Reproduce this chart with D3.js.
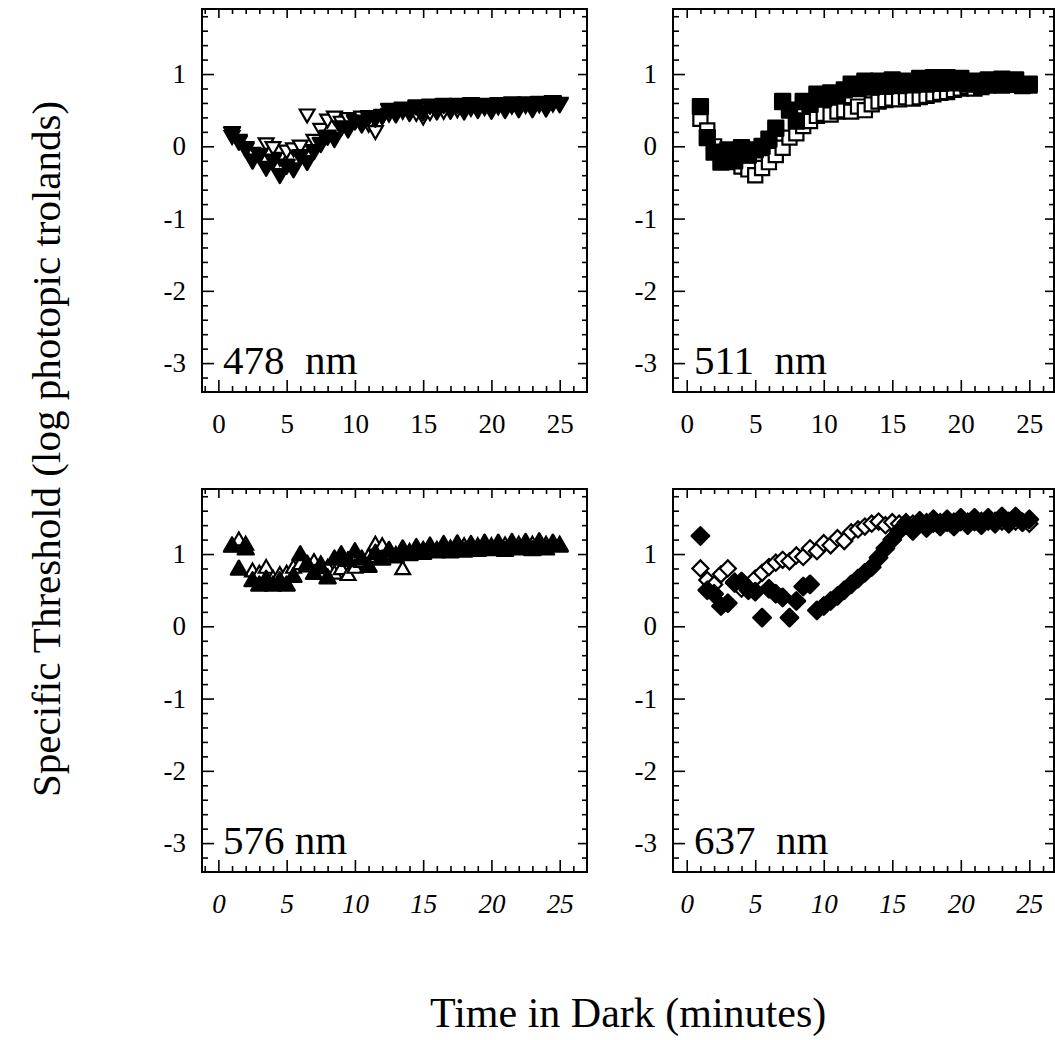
<!DOCTYPE html>
<html>
<head>
<meta charset="utf-8">
<script src="https://cdn.jsdelivr.net/npm/d3@7/dist/d3.min.js"></script>
<style>
  body { margin: 0; background: #fff; }
  svg { display: block; }
  text { font-family: "Liberation Serif", "Times New Roman", serif; fill: #000; }
</style>
</head>
<body>
<svg id="chart"></svg>
<script>
// minutes in the dark at which each threshold was read (same for every series)
const minutes = [1, 1.5, 2, 2.5, 3, 3.5, 4, 4.5, 5, 5.5, 6, 6.5, 7, 7.5, 8, 8.5, 9, 9.5, 10,
  10.5, 11, 11.5, 12, 12.5, 13, 13.5, 14, 14.5, 15, 15.5, 16, 16.5, 17, 17.5, 18, 18.5, 19,
  19.5, 20, 20.5, 21, 21.5, 22, 22.5, 23, 23.5, 24, 24.5, 25];

// log photopic trolands
const filled478 = [0.2, 0.08, -0.02, -0.18, -0.1, -0.28, -0.18, -0.38, -0.25, -0.3, -0.12, -0.2,
  -0.05, 0.05, 0.15, 0.12, 0.28, 0.25, 0.36, 0.32, 0.42, 0.4, 0.44, 0.52, 0.46, 0.54, 0.48, 0.57,
  0.49, 0.58, 0.5, 0.59, 0.51, 0.59, 0.5, 0.6, 0.52, 0.59, 0.51, 0.6, 0.52, 0.61, 0.53, 0.61,
  0.53, 0.62, 0.54, 0.63, 0.6];
const open478 = [0.15, 0.1, 0.0, -0.08, -0.12, 0.05, 0.0, -0.15, -0.05, -0.02, 0.02, 0.45, 0.1,
  0.25, 0.38, 0.42, 0.35, 0.4, 0.38, 0.42, 0.32, 0.22, 0.42, 0.46, 0.48, 0.5, 0.48, 0.47, 0.42,
  0.48, 0.52, 0.5, 0.55, 0.52, 0.55, 0.54, 0.56, 0.55, 0.57, 0.56, 0.58, 0.57, 0.59, 0.58, 0.6,
  0.59, 0.6, 0.6, 0.61];

const filled511 = [0.55, 0.12, -0.08, -0.22, -0.05, -0.2, -0.02, -0.12, -0.05, 0.0, 0.1, 0.25,
  0.62, 0.5, 0.35, 0.62, 0.58, 0.72, 0.66, 0.74, 0.7, 0.78, 0.86, 0.8, 0.9, 0.82, 0.9, 0.83,
  0.92, 0.84, 0.9, 0.85, 0.94, 0.86, 0.95, 0.87, 0.95, 0.88, 0.94, 0.86, 0.9, 0.84, 0.92, 0.86,
  0.93, 0.86, 0.92, 0.84, 0.86];
const open511 = [0.38, 0.22, 0.0, -0.12, -0.18, -0.22, -0.28, -0.32, -0.4, -0.3, -0.22, -0.12,
  -0.02, 0.12, 0.18, 0.28, 0.35, 0.42, 0.45, 0.44, 0.48, 0.5, 0.48, 0.55, 0.5, 0.58, 0.62, 0.64,
  0.66, 0.65, 0.68, 0.66, 0.68, 0.7, 0.72, 0.74, 0.75, 0.78, 0.8, 0.82, 0.8, 0.82, 0.84, 0.85,
  0.84, 0.86, 0.85, 0.86, 0.84];

const filled576 = [1.1, 0.78, 1.06, 0.62, 0.56, 0.64, 0.56, 0.62, 0.56, 0.68, 0.98, 0.85, 0.72,
  0.8, 0.66, 0.92, 0.98, 0.9, 1.02, 0.92, 0.82, 1.0, 0.92, 1.04, 0.95, 1.06, 0.98, 1.08, 1.0,
  1.1, 1.02, 1.12, 1.02, 1.13, 1.03, 1.12, 1.04, 1.14, 1.05, 1.14, 1.04, 1.15, 1.06, 1.15, 1.05,
  1.16, 1.06, 1.14, 1.1];
const open576 = [1.1, 1.18, 1.12, 0.75, 0.72, 0.8, 0.65, 0.7, 0.72, 0.8, 0.85, 0.82, 0.88, 0.85,
  0.8, 0.72, 0.78, 0.7, 0.8, 0.88, 0.95, 1.12, 1.1, 1.0, 0.98, 0.78, 1.02, 1.04, 1.05, 1.06,
  1.05, 1.08, 1.07, 1.08, 1.1, 1.08, 1.1, 1.09, 1.1, 1.1, 1.11, 1.1, 1.12, 1.12, 1.12, 1.13,
  1.12, 1.13, 1.12];

const filled637 = [1.25, 0.5, 0.45, 0.28, 0.32, 0.6, 0.62, 0.5, 0.48, 0.12, 0.52, 0.45, 0.4, 0.12,
  0.35, 0.55, 0.58, 0.22, 0.28, 0.35, 0.42, 0.5, 0.58, 0.66, 0.74, 0.82, 0.95, 1.08, 1.2, 1.32,
  1.4, 1.32, 1.46, 1.36, 1.48, 1.38, 1.48, 1.38, 1.5, 1.4, 1.5, 1.4, 1.5, 1.42, 1.52, 1.42,
  1.52, 1.44, 1.48];
const open637 = [0.8, 0.64, 0.58, 0.72, 0.8, 0.62, 0.52, 0.56, 0.66, 0.74, 0.82, 0.88, 0.92, 0.9,
  0.98, 0.96, 1.08, 1.04, 1.15, 1.12, 1.22, 1.18, 1.3, 1.34, 1.38, 1.42, 1.45, 1.4, 1.44, 1.42,
  1.44, 1.42, 1.43, 1.44, 1.42, 1.44, 1.43, 1.45, 1.44, 1.45, 1.44, 1.46, 1.45, 1.46, 1.45, 1.46,
  1.45, 1.44, 1.42];

const panelLabels = ["478  nm", "511  nm", "576 nm", "637  nm"];
const xTicks = [0, 5, 10, 15, 20, 25];
const yTicks = [-3, -2, -1, 0, 1];
const yDomain = [-3.4, 1.9];

const svg = d3.select("#chart")
    .attr("width", 1055)
    .attr("height", 1040);

// panel placement on the page
const columns = [
  { domain: [-1.2, 27], range: [202, 587] },
  { domain: [-1.0, 26.8], range: [673, 1054] }
];
const rows = [[392, 9], [872, 489]];

// marker shapes, one per wavelength
const shapes = {
  down: { type: d3.symbolTriangle, filled: 110, open: 95, rotate: 180 },
  square: { type: d3.symbolSquare, filled: 220, open: 200, rotate: 0 },
  up: { type: d3.symbolTriangle, filled: 110, open: 95, rotate: 0 },
  diamond: { type: d3.symbolSquare, filled: 150, open: 130, rotate: 45 }
};

const panels = [
  { label: panelLabels[0], filled: filled478, open: open478, shape: "down", col: 0, row: 0 },
  { label: panelLabels[1], filled: filled511, open: open511, shape: "square", col: 1, row: 0 },
  { label: panelLabels[2], filled: filled576, open: open576, shape: "up", col: 0, row: 1 },
  { label: panelLabels[3], filled: filled637, open: open637, shape: "diamond", col: 1, row: 1 }
];

function styleAxis(sel) {
  sel.select(".domain").remove();
  sel.selectAll("line").attr("stroke", "#000").attr("stroke-width", 1.6);
  sel.attr("font-family", null).attr("font-size", null);
}

function drawPanel(p) {
  const x = d3.scaleLinear().domain(columns[p.col].domain).range(columns[p.col].range);
  const y = d3.scaleLinear().domain(yDomain).range(rows[p.row]);
  const [left, right] = x.range();
  const [bottom, top] = y.range();
  const g = svg.append("g");

  const xMinor = d3.range(-1, 27).filter(v => v % 5 !== 0 && v > x.domain()[0] && v < x.domain()[1]);
  const yMinor = d3.range(-32, 19, 2).map(v => v / 10).filter(v => v % 1 !== 0);

  // ticks point inward on all four sides
  g.append("g").attr("transform", `translate(0,${bottom})`)
      .call(d3.axisBottom(x).tickValues(xMinor).tickSize(-6).tickFormat(""))
      .call(styleAxis);
  g.append("g").attr("transform", `translate(0,${top})`)
      .call(d3.axisTop(x).tickValues(xMinor).tickSize(-5).tickFormat(""))
      .call(styleAxis);
  g.append("g").attr("transform", `translate(0,${top})`)
      .call(d3.axisTop(x).tickValues(xTicks).tickSize(-9).tickFormat(""))
      .call(styleAxis);
  g.append("g").attr("transform", `translate(${left},0)`)
      .call(d3.axisLeft(y).tickValues(yMinor).tickSize(-6).tickFormat(""))
      .call(styleAxis);
  g.append("g").attr("transform", `translate(${right},0)`)
      .call(d3.axisRight(y).tickValues(yMinor).tickSize(-5).tickFormat(""))
      .call(styleAxis);
  g.append("g").attr("transform", `translate(${right},0)`)
      .call(d3.axisRight(y).tickValues(yTicks).tickSize(-9).tickFormat(""))
      .call(styleAxis);

  const xAxis = g.append("g").attr("transform", `translate(0,${bottom})`)
      .call(d3.axisBottom(x).tickValues(xTicks).tickSize(-12).tickPadding(22).tickFormat(d3.format("d")))
      .call(styleAxis);
  xAxis.selectAll("text")
      .attr("font-size", 27)
      .attr("font-style", p.row === 1 ? "italic" : "normal");

  const yAxis = g.append("g").attr("transform", `translate(${left},0)`)
      .call(d3.axisLeft(y).tickValues(yTicks).tickSize(-12).tickPadding(16).tickFormat(d => d < 0 ? "-" + Math.abs(d) : d))
      .call(styleAxis);
  yAxis.selectAll("text").attr("font-size", 27);

  // data: open symbols underneath, filled symbols on top
  const s = shapes[p.shape];
  const pts = key => minutes.map((t, i) => ({ t: t, v: p[key][i] }));
  g.append("g").selectAll("path")
      .data(pts("open"))
      .join("path")
      .attr("d", d3.symbol().type(s.type).size(s.open))
      .attr("transform", d => `translate(${x(d.t)},${y(d.v)}) rotate(${s.rotate})`)
      .attr("fill", "#fff")
      .attr("stroke", "#000")
      .attr("stroke-width", 2.2);
  g.append("g").selectAll("path")
      .data(pts("filled"))
      .join("path")
      .attr("d", d3.symbol().type(s.type).size(s.filled))
      .attr("transform", d => `translate(${x(d.t)},${y(d.v)}) rotate(${s.rotate})`)
      .attr("fill", "#000")
      .attr("stroke", "#000")
      .attr("stroke-width", 2.5)
      .attr("stroke-linejoin", "round");

  g.append("rect")
      .attr("x", left).attr("y", top)
      .attr("width", right - left).attr("height", bottom - top)
      .attr("fill", "none")
      .attr("stroke", "#000")
      .attr("stroke-width", 2);

  g.append("text")
      .attr("x", left + 21)
      .attr("y", y(-3) + 11)
      .attr("font-size", 41)
      .style("white-space", "pre")
      .text(p.label);
}

panels.forEach(drawPanel);

svg.append("text")
    .attr("transform", "translate(60,797) rotate(-90)")
    .attr("font-size", 41)
    .text("Specific Threshold (log photopic trolands)");

svg.append("text")
    .attr("x", 430)
    .attr("y", 1027)
    .attr("font-size", 42)
    .text("Time in Dark (minutes)");
</script>
</body>
</html>
